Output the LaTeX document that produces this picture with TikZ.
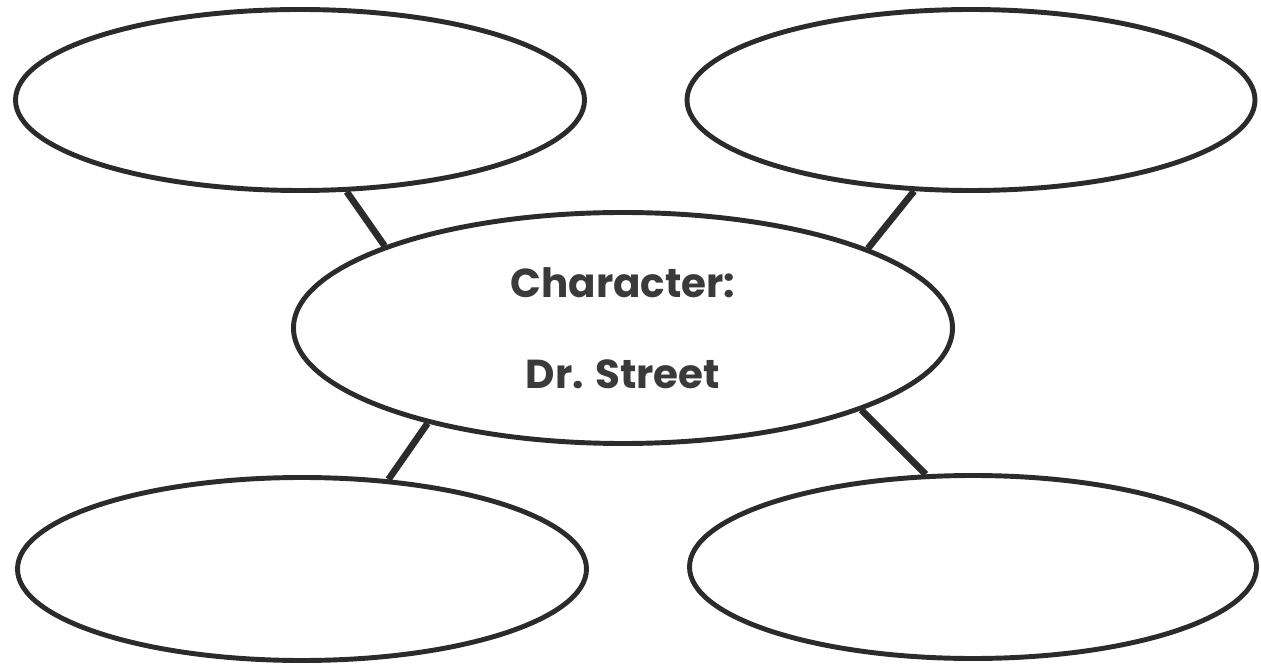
\documentclass[tikz,border=0pt]{standalone}
\usepackage{fontspec}
\usepackage{tikz}
\usetikzlibrary{shapes.geometric}
\newfontfamily\webfont{Poppins}
\definecolor{inkcolor}{HTML}{2B2B2B}
\definecolor{labelcolor}{HTML}{3A3A3A}
\tikzset{
  web bubble/.style={ellipse,draw=inkcolor,line width=2.8pt,inner sep=0pt,
    minimum width=11.38cm,minimum height=3.62cm},
  web hub/.style={web bubble,minimum width=13.18cm,minimum height=4.62cm,
    text=labelcolor,font=\webfont\bfseries\fontsize{23}{28}\selectfont,align=center},
  web link/.style={draw=inkcolor,line width=3.8pt}
}
\begin{document}
\begin{tikzpicture}
  \useasboundingbox (0,0) rectangle (25.22,13.3);
  \node[web hub] (hub) at (12.46,6.74) {Character:\\[0.84cm]Dr. Street};
  \node[web bubble] (tl) at (6.00,11.30) {};
  \node[web bubble,minimum width=11.36cm] (tr) at (19.42,11.30) {};
  \node[web bubble,minimum height=3.66cm] (bl) at (6.04,1.92) {};
  \node[web bubble,minimum width=11.34cm,minimum height=3.66cm] (br) at (19.46,1.96) {};
  \draw[web link] (tl.-63) -- (hub.161);
  \draw[web link] (tr.-122) -- (hub.18);
  \draw[web link] (bl.46) -- (hub.206);
  \draw[web link] (br.117) -- (hub.-19);
\end{tikzpicture}
\end{document}
